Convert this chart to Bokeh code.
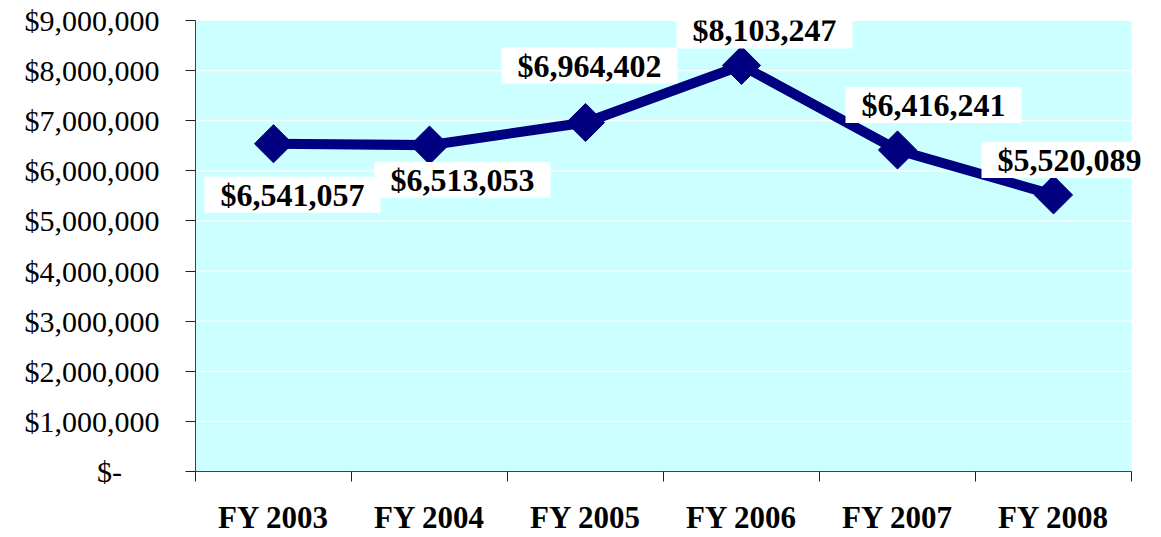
import numpy as np
from bokeh.plotting import figure
from bokeh.models import Range1d, FixedTicker, ColumnDataSource, LabelSet, BoxAnnotation
from bokeh.embed import file_html
from bokeh.resources import INLINE

# ---- data ----
categories = ["FY 2003", "FY 2004", "FY 2005", "FY 2006", "FY 2007", "FY 2008"]
values = [6541057, 6513053, 6964402, 8103247, 6416241, 5520089]
y_ticks = [0, 1000000, 2000000, 3000000, 4000000, 5000000, 6000000, 7000000, 8000000, 9000000]
y_tick_labels = ["$-", "$1,000,000", "$2,000,000", "$3,000,000", "$4,000,000",
                 "$5,000,000", "$6,000,000", "$7,000,000", "$8,000,000", "$9,000,000"]

# ---- style (label placement offsets in screen px, +right / +up) ----
label_dx = [19, 33, 4, 23, 36, 16]
label_dy = [-51, -35, 57, 35, 45, 35]

n = len(categories)
y_max = y_ticks[-1]
xs = [i + 0.5 for i in range(n)]
pad = "\u00a0\u00a0"
labels = [pad + "${:,}".format(v) + pad for v in values]

src = ColumnDataSource(dict(x=xs, y=values, label=labels, dx=label_dx, dy=label_dy))

# frame extends to the right edge so the last data label is not clipped;
# the cyan plot area itself covers only the category span
plot_w = 1161 - 195
cat_px = 936 / n
x_end = plot_w / cat_px

p = figure(width=1161, height=537, output_backend="svg", toolbar_location=None,
           x_range=Range1d(0, x_end), y_range=Range1d(0, y_max),
           min_border_left=195, min_border_right=0, min_border_top=20, min_border_bottom=57)

p.background_fill_color = "white"
p.border_fill_color = "white"
p.outline_line_color = None

p.add_layout(BoxAnnotation(left=0, right=n, bottom=0, top=y_max,
                           fill_color="#CCFFFF", fill_alpha=1.0, line_color=None,
                           level="underlay"))

# grid (drawn only across the plot area)
p.xgrid.grid_line_color = None
p.ygrid.grid_line_color = None
p.segment(x0=[0] * (len(y_ticks) - 1), x1=[n] * (len(y_ticks) - 1),
          y0=y_ticks[1:], y1=y_ticks[1:], line_color="white", line_width=1.2)

# y axis
ya = p.yaxis[0]
ya.ticker = FixedTicker(ticks=y_ticks)
ya.major_label_overrides = {t: (lab if t != 0 else lab + "\u00a0\u00a0\u00a0\u00a0\u00a0")
                            for t, lab in zip(y_ticks, y_tick_labels)}
ya.major_label_text_font = "Liberation Serif"
ya.major_label_text_font_size = "30px"
ya.major_label_text_color = "black"
ya.major_label_standoff = 26
ya.major_tick_out = 10
ya.major_tick_in = 0
ya.minor_tick_out = 0
ya.minor_tick_in = 0
ya.axis_line_color = "#404040"
ya.major_tick_line_color = "#202020"

# x axis: labels at centers, ticks at boundaries
xa = p.xaxis[0]
xa.bounds = (0, n)
xa.ticker = FixedTicker(ticks=xs, minor_ticks=list(range(n + 1)))
xa.major_label_overrides = {x: c for x, c in zip(xs, categories)}
xa.major_label_text_font = "Liberation Serif"
xa.major_label_text_font_style = "bold"
xa.major_label_text_font_size = "31px"
xa.major_label_text_color = "black"
xa.major_label_standoff = 18
xa.major_tick_out = 0
xa.major_tick_in = 0
xa.minor_tick_out = 10
xa.minor_tick_in = 0
xa.axis_line_color = "#404040"
xa.minor_tick_line_color = "#202020"

# line and markers
p.line("x", "y", source=src, line_color="#000080", line_width=10, line_join="miter")
p.scatter("x", "y", source=src, marker="square", angle=np.pi / 4, size=27,
          fill_color="#000080", line_color="#000080")

# data labels
ls = LabelSet(x="x", y="y", text="label", source=src, x_offset="dx", y_offset="dy",
              text_align="center", text_baseline="middle",
              text_font="Liberation Serif", text_font_style="bold", text_font_size="32px",
              text_color="black", background_fill_color="white")
p.add_layout(ls)

open("out.html", "w").write(file_html(p, INLINE))
